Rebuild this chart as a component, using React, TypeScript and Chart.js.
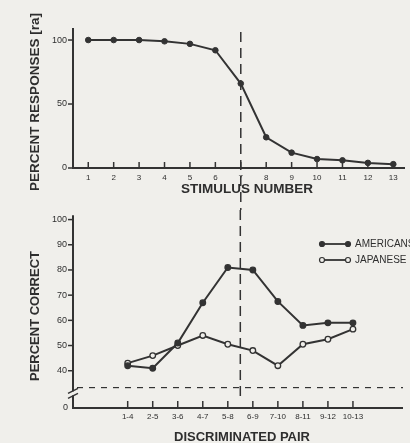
import { useEffect, useRef } from "react";
import { Chart, registerables } from "chart.js";

Chart.register(...registerables);

// ---- data ----
const stimulusNumbers = [1, 2, 3, 4, 5, 6, 7, 8, 9, 10, 11, 12, 13];
const percentResponses = [100, 100, 100, 99, 97, 92, 66, 24, 12, 7, 6, 4, 3];
const topYTicks = [0, 50, 100];

const pairLabels = ["1-4", "2-5", "3-6", "4-7", "5-8", "6-9", "7-10", "8-11", "9-12", "10-13"];
const americanCorrect = [42, 41, 51, 67, 81, 80, 67.5, 58, 59, 59];
const japaneseCorrect = [43, 46, 50, 54, 50.5, 48, 42, 50.5, 52.5, 56.5];
const bottomYTicks = [40, 50, 60, 70, 80, 90, 100];
const seriesNames = ["AMERICANS", "JAPANESE"];
const chanceLevel = 33.3;
const boundaryStimulus = 7;
const boundaryPairIndex = 4.5;

// ---- style ----
const BG = "#f0efeb";
const INK = "#333333";
const TEXT = "#2e2e2e";
const FONT = '"Liberation Sans", Arial, sans-serif';

function txt(
  ctx: CanvasRenderingContext2D,
  s: string,
  x: number,
  y: number,
  size: number,
  align: CanvasTextAlign,
  rotate = false,
  bold = false
) {
  ctx.save();
  ctx.fillStyle = TEXT;
  ctx.font = `${bold ? "bold " : ""}${size}px ${FONT}`;
  ctx.textAlign = align;
  ctx.textBaseline = "middle";
  ctx.translate(x, y);
  if (rotate) ctx.rotate(-Math.PI / 2);
  ctx.fillText(s, 0, 0);
  ctx.restore();
}

const topPlugin = {
  id: "topAxes",
  beforeDatasetsDraw(chart: any) {
    const { ctx, chartArea } = chart;
    const xs = chart.scales.x;
    const ys = chart.scales.y;
    const L = chartArea.left;
    const B = chartArea.bottom;
    ctx.save();
    ctx.strokeStyle = INK;
    ctx.lineWidth = 2;
    ctx.beginPath();
    ctx.moveTo(L, chartArea.top);
    ctx.lineTo(L, B);
    ctx.lineTo(chartArea.right, B);
    ctx.stroke();
    ctx.lineWidth = 1.5;
    topYTicks.forEach((v) => {
      const py = ys.getPixelForValue(v);
      ctx.beginPath();
      ctx.moveTo(L - 5, py);
      ctx.lineTo(L, py);
      ctx.stroke();
      txt(ctx, String(v), L - 6, py, 9, "right");
    });
    stimulusNumbers.forEach((v) => {
      const px = xs.getPixelForValue(v);
      ctx.beginPath();
      ctx.moveTo(px, B - 6);
      ctx.lineTo(px, B + 1);
      ctx.stroke();
      txt(ctx, String(v), px, B + 10, 8, "center");
    });
    // boundary line
    const bx = xs.getPixelForValue(boundaryStimulus);
    ctx.setLineDash([10, 6]);
    ctx.lineWidth = 1.5;
    ctx.beginPath();
    ctx.moveTo(bx, 32);
    ctx.lineTo(bx, chart.height);
    ctx.stroke();
    ctx.restore();
    txt(ctx, "STIMULUS NUMBER", 247, 189, 13.5, "center", false, true);
    txt(ctx, "PERCENT RESPONSES [ra]", 35, 102, 13.5, "center", true, true);
  },
};

const bottomPlugin = {
  id: "bottomAxes",
  beforeDatasetsDraw(chart: any) {
    const { ctx, chartArea } = chart;
    const xs = chart.scales.x;
    const ys = chart.scales.y;
    const L = chartArea.left;
    const B = chartArea.bottom;
    ctx.save();
    ctx.strokeStyle = INK;
    ctx.lineWidth = 2;
    ctx.beginPath();
    ctx.moveTo(L, chartArea.top);
    ctx.lineTo(L, B);
    ctx.lineTo(chartArea.right, B);
    ctx.stroke();
    ctx.lineWidth = 1.5;
    bottomYTicks.forEach((v) => {
      const py = ys.getPixelForValue(v);
      ctx.beginPath();
      ctx.moveTo(L - 5, py);
      ctx.lineTo(L, py);
      ctx.stroke();
      txt(ctx, String(v), L - 6, py, 9, "right");
    });
    txt(ctx, "0", L - 5, B, 9, "right");
    pairLabels.forEach((lab, i) => {
      const px = xs.getPixelForValue(i);
      ctx.beginPath();
      ctx.moveTo(px, B - 7);
      ctx.lineTo(px, B);
      ctx.stroke();
      txt(ctx, lab, px, B + 9, 8, "center");
    });
    // axis break
    const yb = ys.getPixelForValue(31);
    ctx.fillStyle = BG;
    ctx.fillRect(L - 2, yb - 2, 4, 4);
    ctx.lineWidth = 1.5;
    [-2.5, 2.5].forEach((d) => {
      ctx.beginPath();
      ctx.moveTo(L - 5, yb + d + 2.5);
      ctx.lineTo(L + 5, yb + d - 2.5);
      ctx.stroke();
    });
    // chance line
    const cy = ys.getPixelForValue(chanceLevel);
    ctx.setLineDash([6, 6]);
    ctx.lineWidth = 1.2;
    ctx.beginPath();
    ctx.moveTo(L + 4, cy);
    ctx.lineTo(chartArea.right, cy);
    ctx.stroke();
    // boundary line
    const bx = xs.getPixelForValue(boundaryPairIndex);
    ctx.setLineDash([10, 6]);
    ctx.lineWidth = 1.5;
    ctx.beginPath();
    ctx.moveTo(bx, 0);
    ctx.lineTo(bx, B - 6);
    ctx.stroke();
    ctx.restore();
    txt(ctx, "DISCRIMINATED PAIR", 242, 227, 13, "center", false, true);
    txt(ctx, "PERCENT CORRECT", 35, 106, 13, "center", true, true);
  },
  afterDraw(chart: any) {
    const { ctx } = chart;
    const rows = [
      { y: 34, fill: INK },
      { y: 50, fill: BG },
    ];
    ctx.save();
    rows.forEach((r, i) => {
      ctx.strokeStyle = INK;
      ctx.lineWidth = 1.8;
      ctx.beginPath();
      ctx.moveTo(322, r.y);
      ctx.lineTo(348, r.y);
      ctx.stroke();
      [322, 348].forEach((px) => {
        ctx.beginPath();
        ctx.arc(px, r.y, 2.5, 0, Math.PI * 2);
        ctx.fillStyle = r.fill;
        ctx.fill();
        ctx.lineWidth = 1.2;
        ctx.stroke();
      });
      txt(ctx, seriesNames[i], 355, r.y, 10, "left");
    });
    ctx.restore();
  },
};

export default function App() {
  const topRef = useRef<HTMLCanvasElement>(null);
  const botRef = useRef<HTMLCanvasElement>(null);

  useEffect(() => {
    const top = new Chart(topRef.current!, {
      type: "line",
      data: {
        datasets: [
          {
            data: stimulusNumbers.map((s, i) => ({ x: s, y: percentResponses[i] })),
            borderColor: INK,
            backgroundColor: INK,
            borderWidth: 2,
            pointRadius: 2.8,
            pointBorderWidth: 1,
            tension: 0,
            clip: false as any,
          },
        ],
      },
      options: {
        responsive: false,
        animation: false,
        layout: { padding: { left: 73, right: 5, top: 28, bottom: 42 } },
        plugins: { legend: { display: false }, tooltip: { enabled: false } },
        scales: {
          x: { type: "linear", min: 0.4, max: 13.46, display: false },
          y: { type: "linear", min: 0, max: 109.4, display: false },
        },
      },
      plugins: [topPlugin],
    });

    const mk = (vals: number[], fill: string) => ({
      data: vals.map((v, i) => ({ x: i, y: v })),
      borderColor: INK,
      backgroundColor: fill,
      pointBackgroundColor: fill,
      pointBorderColor: INK,
      borderWidth: 2,
      pointRadius: 2.8,
      pointBorderWidth: 1.3,
      tension: 0,
      clip: false as any,
    });

    const bottom = new Chart(botRef.current!, {
      type: "line",
      data: {
        labels: pairLabels,
        datasets: [
          { label: seriesNames[0], ...mk(americanCorrect, INK) },
          { label: seriesNames[1], ...mk(japaneseCorrect, BG) },
        ],
      },
      options: {
        responsive: false,
        animation: false,
        layout: { padding: { left: 73, right: 7, top: 5, bottom: 35 } },
        plugins: { legend: { display: false }, tooltip: { enabled: false } },
        scales: {
          x: { type: "linear", min: -2.185, max: 11.0, display: false },
          y: { type: "linear", min: 25.2, max: 101.7, display: false },
        },
      },
      plugins: [bottomPlugin],
    });

    return () => {
      top.destroy();
      bottom.destroy();
    };
  }, []);

  return (
    <div
      style={{
        position: "absolute",
        left: 0,
        top: 0,
        width: 410,
        height: 443,
        background: BG,
        overflow: "hidden",
      }}
    >
      <canvas ref={topRef} width={410} height={210} style={{ display: "block" }} />
      <canvas ref={botRef} width={410} height={233} style={{ display: "block" }} />
    </div>
  );
}
